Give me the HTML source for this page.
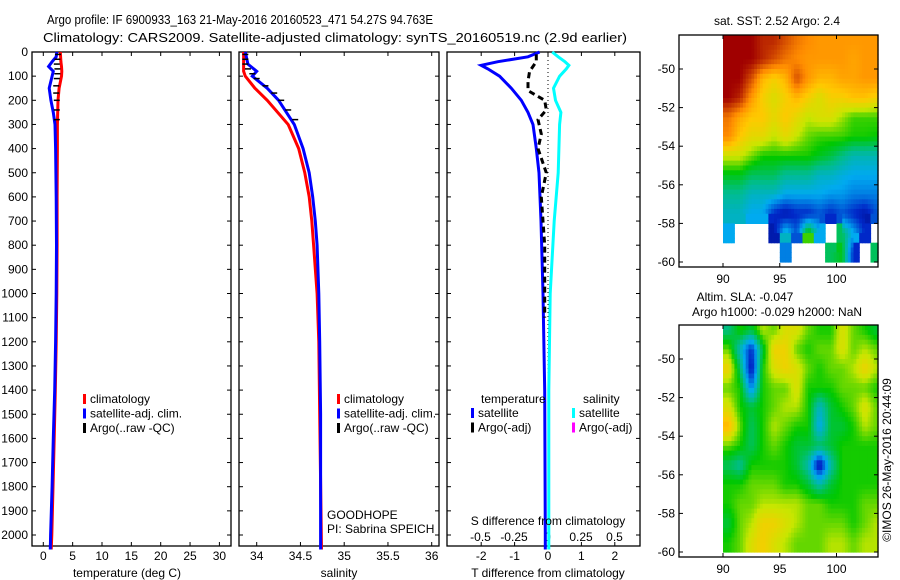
<!DOCTYPE html>
<html><head><meta charset="utf-8">
<style>
html,body{margin:0;padding:0;background:#fff;}
svg{display:block;font-family:"Liberation Sans",sans-serif;}
text{font-size:12px;fill:#000;}
</style></head>
<body>
<svg id="fig" width="900" height="580" viewBox="0 0 900 580" xmlns="http://www.w3.org/2000/svg">
<text x="47" y="24" textLength="386" lengthAdjust="spacingAndGlyphs" style="font-size:13px">Argo profile: IF 6900933_163 21-May-2016 20160523_471 54.27S 94.763E</text>
<text x="43" y="42" textLength="584" lengthAdjust="spacingAndGlyphs" style="font-size:13px">Climatology: CARS2009. Satellite-adjusted climatology: synTS_20160519.nc (2.9d earlier)</text>
<g id="g"></g>
</svg>
<script>
// ---- data ----
var tDepth=[0,20,40,60,80,100,150,200,250,300,400,600,800,1000,1200,1400,1600,1800,2000,2060];
var tClim=[2.9,2.95,3.0,3.1,3.15,3.1,2.7,2.5,2.45,2.4,2.4,2.35,2.35,2.3,2.2,2.05,1.85,1.65,1.45,1.35];
var tSat=[2.3,2.2,1.5,0.9,1.7,1.5,1.0,1.3,1.7,2.0,2.1,2.2,2.25,2.2,2.1,1.95,1.7,1.5,1.25,1.2];
var argoDepth=[10,30,50,70,90,110,140,170,200,240,280];
var argoT=[2.5,2.4,2.3,2.4,2.4,2.3,2.2,2.2,2.3,2.3,2.3];
var sDepth=[0,50,80,100,150,200,300,400,500,600,700,800,1000,1200,1500,2060];
var sClim=[33.85,33.85,33.85,33.87,33.98,34.12,34.36,34.48,34.55,34.6,34.63,34.65,34.69,34.71,34.72,34.74];
var sSat=[33.87,33.9,34.0,33.95,34.12,34.25,34.43,34.53,34.6,34.64,34.67,34.69,34.71,34.72,34.73,34.73];
var argoS=[33.87,33.87,33.87,33.9,33.95,34.0,34.1,34.2,34.28,34.36,34.44];
var dDepth=[0,20,40,55,70,100,150,200,250,300,400,500,700,1000,1400,2000,2060];
var dT=[-0.25,-0.6,-1.5,-2.0,-1.8,-1.45,-1.1,-0.8,-0.6,-0.45,-0.35,-0.27,-0.21,-0.15,-0.1,-0.08,-0.08];
var dS=[0.035,0.08,0.13,0.16,0.14,0.09,0.045,0.06,0.1,0.09,0.085,0.08,0.05,0.02,0.01,0.01,0.01];
var dArgoDepth=[10,40,80,120,160,200,240,280,340,400,500,600,800,1100];
var dArgoT=[-0.35,-0.35,-0.55,-0.6,-0.6,-0.1,-0.05,-0.3,-0.2,-0.3,-0.05,-0.2,-0.1,-0.1];
var depthTicks=[0,100,200,300,400,500,600,700,800,900,1000,1100,1200,1300,1400,1500,1600,1700,1800,1900,2000];
var tTicks=[0,5,10,15,20,25,30];
var sTicks=[34,34.5,35,35.5,36];
var dtTicks=[-2,-1,0,1,2];
var dsTicks=[-0.5,-0.25,0,0.25,0.5];
var dsTickLabels=["-0.5","-0.25","0","0.25","0.5"];
var mapLons=[90,91,92,93,94,95,96,97,98,99,100,101,102,103];
var mapLats=[-48.5,-49.5,-50.5,-51.5,-52.5,-53.5,-54.5,-55.5,-56.5,-57.5,-58.5,-59.5];
var sstGrid=[
[10,10,10,9.5,9.5,9,8.5,8.2,8,8,8,8,8,8],
[10,10,10,9.5,9,8.5,8.2,8,8,8,8,7.8,8,8],
[10,10,9,7.5,7,7.5,9,8,7.5,7.5,7.8,7.8,8,8],
[10,9.5,8,7,6.5,7,7.5,7,6.5,7,7,7.3,7.3,7],
[8.5,7.7,7.2,7.2,6.7,7.2,6.7,6.2,6.5,6.5,6,5.5,5.5,5.5],
[8.2,7.2,6.7,6.7,6.2,6.7,6.2,5.7,5.5,5.5,5.5,5.3,5.3,5.2],
[6.3,6.3,5.8,5.3,5.3,5.3,5.3,5.3,5,4.7,4.2,3.7,3.7,3.7],
[5,5,4.5,4.5,4.5,4,4,4,3.5,3.5,3.2,3,3,3],
[4,4,3.5,3.5,3.5,3,3,3,3,2.8,2.8,2.5,2.5,2.5],
[3.5,3.5,3,3,1.5,1,1.5,1.5,2,1.5,2,1.5,1,2],
[3,null,null,null,1,3.5,2,5.5,3,null,4.5,3,1.5,null],
[null,null,null,null,null,2.5,null,null,null,4.5,5,1.5,null,4.5]];
var slaGrid=[
[4.2,5.3,4.8,6.1,5.7,6.5,6.5,5.7,5.3,5.3,6.5,5.7,5.3,4.8],
[5.7,3.6,1.5,4.8,6.9,6.9,5.7,5.3,5.7,5.7,6.5,5.7,6.1,5.7],
[6.9,4.5,1.0,5.3,6.5,6.9,6.5,5.7,5.3,5.7,5.7,6.1,6.9,6.1],
[5.7,5.3,2.5,5.3,5.7,5.7,6.5,5.3,5.3,5.3,5.7,5.7,5.7,5.3],
[6.5,5.3,4.8,5.3,5.7,6.1,6.1,5.3,3.5,4.8,5.3,5.7,6.5,5.7],
[7.5,5.7,4.5,5.3,6.1,5.7,5.3,5.3,3.0,4.8,4.8,5.3,6.1,5.7],
[5.7,5.3,4.5,5.3,5.7,5.3,4.8,4.8,4.5,4.8,5.3,5.3,5.3,5.3],
[4.5,4.0,5.3,5.3,5.3,5.3,4.8,3.8,0.8,3.8,5.3,5.3,5.3,5.3],
[5.3,5.3,5.7,5.7,5.7,5.3,5.3,4.8,3.8,4.8,5.3,5.3,5.3,5.3],
[5.3,5.7,5.7,6.1,6.1,6.1,6.1,5.7,5.7,5.3,5.3,5.3,5.7,5.7],
[4.8,5.7,6.1,6.9,6.9,6.5,6.1,5.7,5.7,5.7,5.7,5.3,5.7,6.1],
[5.3,5.7,6.5,7.0,6.5,6.1,5.7,5.7,5.7,6.1,6.1,5.7,6.1,6.1]];
var lonTicks=[90,95,100];
var latTicks=[-50,-52,-54,-56,-58,-60];

// ---- drawing ----
var NS="http://www.w3.org/2000/svg", G=document.getElementById('g');
function mk(t,a,p){var e=document.createElementNS(NS,t);for(var k in a)e.setAttribute(k,a[k]);(p||G).appendChild(e);return e;}
function txt(s,x,y,anchor,name,extra){var e=mk('text',Object.assign({x:x,y:y,'text-anchor':anchor||'start'},extra||{}));e.textContent=s;


return e;}
function yD(d){return 52+d*0.2415;}
var Y0=52,Y1=546;
function frame(x0,x1,y0,y1,name){var r=mk('rect',{x:x0,y:y0,width:x1-x0,height:y1-y0,fill:'none',stroke:'#000','stroke-width':1.3});

}
function line(xs,ys,col,w,name,dash){var pts=xs.map(function(x,i){return x.toFixed(1)+','+ys[i].toFixed(1);}).join(' ');
var a={points:pts,fill:'none',stroke:col,'stroke-width':w,'stroke-linejoin':'miter'};if(dash)a['stroke-dasharray']=dash;
var p=mk('polyline',a);

}
function depthTicksFor(x0,x1,labels){depthTicks.forEach(function(d){var y=yD(d);
mk('line',{x1:x0,y1:y,x2:x0+4,y2:y,stroke:'#000'});mk('line',{x1:x1,y1:y,x2:x1-4,y2:y,stroke:'#000'});
if(labels)txt(String(d),28,y+4,'end','depth-tick-label');});}
function xTicks(vals,fx,x0,x1,labs,ly,name){vals.forEach(function(v,i){var x=fx(v);
mk('line',{x1:x,y1:Y1,x2:x,y2:Y1-4,stroke:'#000'});mk('line',{x1:x,y1:Y0,x2:x,y2:Y0+4,stroke:'#000'});
if(labs)txt(labs[i],x,ly,'middle',name);});}
function legend(x,y,entries,pfx){entries.forEach(function(e,i){var yy=y+i*14.5;
var r=mk('rect',{x:x,y:yy-9,width:3,height:10,fill:e[1]});


txt(e[0],x+7,yy,'start',pfx+'-legend-entry');});}

// Panel 1 temperature
var fT=function(v){return 43.3+v*5.87;};
frame(32,231,Y0,Y1,'temperature-axes');
depthTicksFor(32,231,true);
xTicks(tTicks,fT,32,231,tTicks.map(String),560,'temperature-tick-label');
line(tClim.map(fT),tDepth.map(yD),'#f00',3,'temperature-climatology-line');
line(tSat.map(fT),tDepth.map(yD),'#00f',3,'temperature-satellite-line');
argoDepth.forEach(function(d,i){var x=fT(argoT[i]),y=yD(d);var l=mk('line',{x1:x-3,y1:y,x2:x+3,y2:y,stroke:'#000','stroke-width':1.5});

});
txt('temperature (deg C)',127,577,'middle','temperature-axis-title');
legend(83,403,[['climatology','#f00'],['satellite-adj. clim.','#00f'],['Argo(..raw -QC)','#000']],'temperature');

// Panel 2 salinity
var fS=function(v){return 256.7+(v-34)*87.5;};
frame(239,439,Y0,Y1,'salinity-axes');
depthTicksFor(239,439,false);
xTicks(sTicks,fS,239,439,['34','34.5','35','35.5','36'],560,'salinity-tick-label');
line(sClim.map(fS),sDepth.map(yD),'#f00',3,'salinity-climatology-line');
line(sSat.map(fS),sDepth.map(yD),'#00f',3,'salinity-satellite-line');
argoDepth.forEach(function(d,i){var x=fS(argoS[i]),y=yD(d);var l=mk('line',{x1:x-3,y1:y,x2:x+3,y2:y,stroke:'#000','stroke-width':1.5});

});
txt('salinity',339,577,'middle','salinity-axis-title');
legend(337,403,[['climatology','#f00'],['satellite-adj. clim.','#00f'],['Argo(..raw -QC)','#000']],'salinity');
txt('GOODHOPE',327,519,'start','project-label');
txt('PI: Sabrina SPEICH',327,533,'start','pi-label');

// Panel 3 differences
var fDT=function(v){return 548+v*33.4;};
var fDS=function(v){return 547.5+v*134;};
frame(447,640,Y0,Y1,'difference-axes');
depthTicksFor(447,640,false);
xTicks(dtTicks,fDT,447,640,dtTicks.map(String),560,'t-difference-tick-label');
dsTicks.forEach(function(v,i){txt(dsTickLabels[i],fDS(v),541,'middle','s-difference-tick-label');});
mk('line',{x1:548,y1:Y0,x2:548,y2:Y1,stroke:'#000','stroke-width':1,'stroke-dasharray':'1,3'});
line(dT.map(fDT),dDepth.map(yD),'#00f',3,'t-difference-satellite-line');
line(dS.map(fDS),dDepth.map(yD),'#0ff',3,'s-difference-satellite-line');
line(dArgoT.map(fDT),dArgoDepth.map(yD),'#000',3,'t-difference-argo-line','6,4');
txt('S difference from climatology',548,525,'middle','s-difference-axis-title');
txt('T difference from climatology',548,577,'middle','t-difference-axis-title');
txt('temperature',481,403,'start','difference-legend-temperature-heading');
txt('salinity',583,403,'start','difference-legend-salinity-heading');
legend(471,417,[['satellite','#00f'],['Argo(-adj)','#000']],'difference-temperature');
legend(572,417,[['satellite','#0ff'],['Argo(-adj)','#f0f']],'difference-salinity');

// Maps
var cmapStops=[[0,0,0,120],[0.15,0,40,200],[0.3,0,170,240],[0.42,0,190,130],[0.52,0,200,0],[0.62,200,230,0],[0.72,255,200,0],[0.82,255,140,0],[1,160,0,0]];
function cmap(v){var t=Math.max(0,Math.min(1,v/10));
 for(var i=1;i<cmapStops.length;i++){var a=cmapStops[i-1],b=cmapStops[i];
  if(t<=b[0]){var f=(t-a[0])/(b[0]-a[0]);
   return 'rgb('+Math.round(a[1]+f*(b[1]-a[1]))+','+Math.round(a[2]+f*(b[2]-a[2]))+','+Math.round(a[3]+f*(b[3]-a[3]))+')';}}
 return 'rgb(160,0,0)';}
function sample(grid,fr,fc){
 var R=grid.length,C=grid[0].length;
 var r0=Math.max(0,Math.min(R-1,Math.floor(fr))),c0=Math.max(0,Math.min(C-1,Math.floor(fc)));
 var r1=Math.min(R-1,r0+1),c1=Math.min(C-1,c0+1);
 var ar=Math.max(0,Math.min(1,fr-r0)),ac=Math.max(0,Math.min(1,fc-c0));
 var a=grid[r0][c0],b=grid[r0][c1],c=grid[r1][c0],d=grid[r1][c1];
 if(a===null||b===null||c===null||d===null)return null;
 return a*(1-ar)*(1-ac)+b*(1-ar)*ac+c*ar*(1-ac)+d*ar*ac;}
function map(top,grid,name){
 var x0=679,x1=878,bot=top+232;
 var fx=function(l){return 723+(l-90)*11.35;};
 var fy=function(la){return top+34+(-50-la)*19.3;};
 var N=4;
 for(var r=0;r<mapLats.length;r++)for(var c=0;c<mapLons.length;c++){
  if(grid[r][c]===null)continue;
  for(var i=0;i<N;i++)for(var j=0;j<N;j++){
   var fr=r-0.5+(i+0.5)/N, fc=c-0.5+(j+0.5)/N;
   var v=sample(grid,fr,fc); if(v===null)v=grid[r][c];
   var xa=fx(mapLons[c]+j/N),xb=Math.min(x1,fx(mapLons[c]+(j+1)/N));
   var ya=fy(mapLats[r]+0.5-i/N),yb=Math.min(bot-5,fy(mapLats[r]+0.5-(i+1)/N));
   if(ya<top)ya=top; if(yb<=ya||xb<=xa)continue;
   var cell=mk('rect',{x:xa.toFixed(1),y:ya.toFixed(1),width:(xb-xa+0.6).toFixed(1),height:(yb-ya+0.6).toFixed(1),fill:cmap(v)});
   
   }}
 frame(x0,x1,top,bot,name+'-axes');
 lonTicks.forEach(function(l){var x=fx(l);mk('line',{x1:x,y1:bot,x2:x,y2:bot-4,stroke:'#000'});mk('line',{x1:x,y1:top,x2:x,y2:top+4,stroke:'#000'});
  txt(String(l),x,bot+16,'middle',name+'-lon-tick-label');});
 latTicks.forEach(function(la){var y=fy(la);mk('line',{x1:x0,y1:y,x2:x0+4,y2:y,stroke:'#000'});mk('line',{x1:x1,y1:y,x2:x1-4,y2:y,stroke:'#000'});
  txt(String(la),675,y+4,'end',name+'-lat-tick-label');});
}
map(35,sstGrid,'sst-map');
map(325,slaGrid,'sla-map');
txt('sat. SST: 2.52 Argo: 2.4',777,25,'middle','sst-map-title');
txt('Altim. SLA: -0.047',745,301,'middle','sla-map-title');
txt('Argo h1000: -0.029 h2000: NaN',777,316,'middle','sla-map-subtitle');
txt('\u00A9IMOS 26-May-2016 20:44:09',891,460,'middle','timestamp-label',{transform:'rotate(-90 891 460)'});
</script>
</body></html>
